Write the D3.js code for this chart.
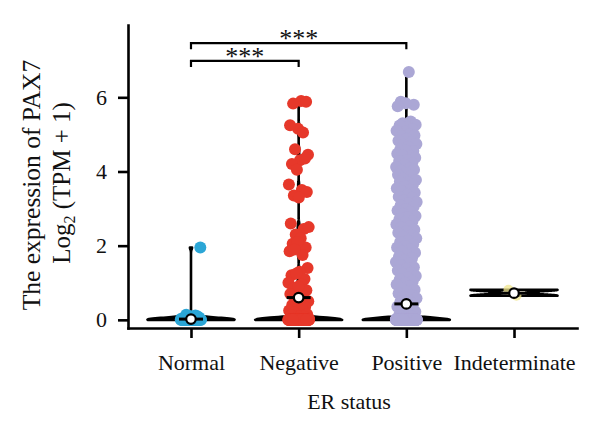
<!DOCTYPE html>
<html><head><meta charset="utf-8">
<script src="https://cdn.jsdelivr.net/npm/d3@7"></script>
<style>
body{margin:0;background:#fff}
text{font-family:"Liberation Serif","Times New Roman",serif;fill:#111}
</style>
</head><body>
<svg id="chart" width="600" height="432"></svg>
<script>
// ---------- data ----------
const categories = ["Normal", "Negative", "Positive", "Indeterminate"];

const normalValues = [0, 0.05, 0, 0.1, 0, 0.12, 0, 1.95, 0.08, 0, 0.1, 0, 0.03, 0, 0.14, 0.06, 0.04];

const negativeValues = [5.9, 5.83, 5.88, 5.15, 5.25, 5.05, 4.6, 4.45, 4.3, 4.2, 4.35, 4.05,
  3.65, 3.5, 3.35, 3.45, 3.3, 2.6, 2.45, 2.3, 2.5, 2.2, 2.05, 1.95, 2.1, 1.85, 1.75, 1.9,
  1.4, 1.3, 1.2, 1.1, 1.25, 1.0, 0.95, 0.85, 0.8, 0.9, 0.7, 0.65, 0.55, 0.5, 0.45, 0.4,
  0.35, 0.3, 0.25, 0.32, 0.2, 0.15, 0.1, 0.12, 0.08, 0.05, 0.03, 0.02, 0.01];

const positiveValues = [6.68, 5.88, 5.8, 5.84, 5.76, 5.35, 5.3, 5.26, 5.2, 5.24, 5.13, 5.08,
  5.1, 5.01, 4.95, 4.97, 4.88, 4.83, 4.79, 4.72, 4.74, 4.66, 4.6, 4.55, 4.57, 4.48, 4.42,
  4.44, 4.37, 4.31, 4.28, 4.22, 4.19, 4.12, 4.08, 4.02, 4.05, 3.96, 3.91, 3.88, 3.81, 3.77,
  3.7, 3.73, 3.64, 3.6, 3.55, 3.51, 3.46, 3.43, 3.37, 3.32, 3.29, 3.22, 3.18, 3.14, 3.08,
  3.05, 2.99, 2.95, 2.9, 2.86, 2.8, 2.77, 2.71, 2.66, 2.63, 2.57, 2.52, 2.49, 2.43, 2.38,
  2.35, 2.28, 2.24, 2.2, 2.13, 2.1, 2.04, 1.99, 1.95, 1.9, 1.84, 1.81, 1.75, 1.7, 1.66,
  1.61, 1.56, 1.52, 1.47, 1.42, 1.38, 1.33, 1.27, 1.24, 1.18, 1.14, 1.09, 1.04, 0.99, 0.95,
  0.9, 0.85, 0.81, 0.76, 0.71, 0.67, 0.62, 0.58, 0.53, 0.49, 0.44, 0.4, 0.35, 0.31, 0.26,
  0.22, 0.17, 0.13, 0.09, 0.05, 0.02];

const indeterminateValues = [0.65, 0.81];

// number of additional samples at exactly 0 in each group
const zeroCounts = [30, 90, 220, 0];
// white circle marker (group mean)
const meanValues = [0.02, 0.6, 0.43, 0.72];

const yTicks = [0, 2, 4, 6];
const colors = ["#2ba6d6", "#e6382a", "#aba7d5", "#f0e68c"];

const comparisons = [
  {from: "Normal", to: "Negative", label: "***", level: 6.98},
  {from: "Normal", to: "Positive", label: "***", level: 7.46}
];

const yLabelLine1 = "The expression of PAX7";
const xTitle = "ER status";

// ---------- build ----------
const groupValues = [normalValues, negativeValues, positiveValues, indeterminateValues];
const groups = categories.map((c, i) => {
  const vals = groupValues[i].slice();
  for (let k = 0; k < zeroCounts[i]; k++) vals.push(0);
  return {name: c, values: vals, mean: meanValues[i], color: colors[i]};
});

const svg = d3.select("#chart");
const M = {left: 128, right: 577, top: 25, bottom: 328};

const x = d3.scalePoint().domain(categories).range([M.left, M.right]).padding(0.585);
const y = d3.scaleLinear().domain([-0.22, 7.95]).range([M.bottom, M.top]);

const halfWidth = 43.5;
const jitterWidth = 10.5;
const bandwidths = [0.05, 0.06, 0.06, 0.04];

// ---------- violins ----------
groups.forEach((g, gi) => {
  const v = g.values;
  const lo = d3.min(v), hi = d3.max(v);
  const bw = bandwidths[gi];
  const n = 300;
  const pts = d3.range(n + 1).map(k => {
    const t = lo + (hi - lo) * k / n;
    const dens = d3.sum(v, d => Math.exp(-0.5 * ((t - d) / bw) ** 2));
    return {t, dens};
  });
  const maxD = d3.max(pts, p => p.dens);
  const cx = x(g.name);
  const area = d3.area()
    .x0(p => cx - halfWidth * p.dens / maxD)
    .x1(p => cx + halfWidth * p.dens / maxD)
    .y(p => y(p.t));
  svg.append("path")
    .attr("d", area(pts))
    .attr("fill", gi === 3 ? "#fffbe8" : "#000")
    .attr("stroke", "#000")
    .attr("stroke-width", 2.6)
    .attr("stroke-linejoin", "round");
});

// ---------- jittered points ----------
const jitter = i => (((i + 1) * 0.6180339887) % 1) * 2 - 1;
groups.forEach((g, gi) => {
  const cx = x(g.name);
  svg.append("g").selectAll("circle")
    .data(g.values)
    .join("circle")
    .attr("cx", (d, i) => cx + jitter(i) * jitterWidth)
    .attr("cy", d => y(d))
    .attr("r", gi === 3 ? 5 : 6)
    .attr("fill", g.color)
    .attr("fill-opacity", gi === 3 ? 0.75 : 1);
});

// ---------- mean markers ----------
groups.forEach(g => {
  const cx = x(g.name);
  svg.append("line")
    .attr("x1", cx - 12).attr("x2", cx + 12)
    .attr("y1", y(g.mean)).attr("y2", y(g.mean))
    .attr("stroke", "#000").attr("stroke-width", 3);
  svg.append("circle")
    .attr("cx", cx).attr("cy", y(g.mean))
    .attr("r", 4.8)
    .attr("fill", "#fff").attr("stroke", "#000").attr("stroke-width", 2.2);
});

// ---------- axes ----------
const yAxis = svg.append("g")
  .attr("transform", `translate(${M.left},0)`)
  .call(d3.axisLeft(y).tickValues(yTicks).tickFormat(d3.format("d")).tickSize(10).tickSizeOuter(0).tickPadding(11));
const xAxis = svg.append("g")
  .attr("transform", `translate(0,${M.bottom})`)
  .call(d3.axisBottom(x).tickSize(10).tickSizeOuter(0).tickPadding(16));

[yAxis, xAxis].forEach(a => {
  a.select(".domain").attr("stroke", "#000").attr("stroke-width", 2.6).attr("stroke-linecap", "square");
  a.selectAll(".tick line").attr("stroke", "#000").attr("stroke-width", 2.6);
  a.selectAll("text").attr("font-size", 22).attr("font-family", '"Liberation Serif", serif').attr("fill", "#111");
});

// ---------- titles ----------
svg.append("text")
  .attr("transform", "translate(40,185) rotate(-90)")
  .attr("text-anchor", "middle")
  .attr("font-size", 25.5)
  .text(yLabelLine1);

const yl2 = svg.append("text")
  .attr("transform", "translate(70,183) rotate(-90)")
  .attr("text-anchor", "middle")
  .attr("font-size", 25);
yl2.append("tspan").text("Log");
yl2.append("tspan").attr("font-size", 16).attr("dy", 5).text("2");
yl2.append("tspan").attr("dy", -5).text(" (TPM + 1)");

svg.append("text")
  .attr("x", 349).attr("y", 409)
  .attr("text-anchor", "middle")
  .attr("font-size", 22)
  .text(xTitle);

// ---------- significance brackets ----------
comparisons.forEach(c => {
  const x1 = x(c.from), x2 = x(c.to), yy = y(c.level);
  const tick = 6;
  svg.append("path")
    .attr("d", `M${x1},${yy + tick}V${yy}H${x2}V${yy + tick}`)
    .attr("fill", "none").attr("stroke", "#000").attr("stroke-width", 2.2);
  svg.append("text")
    .attr("x", (x1 + x2) / 2).attr("y", yy + 4)
    .attr("text-anchor", "middle")
    .attr("font-size", 26)
    .text(c.label);
});
</script>
</body></html>
